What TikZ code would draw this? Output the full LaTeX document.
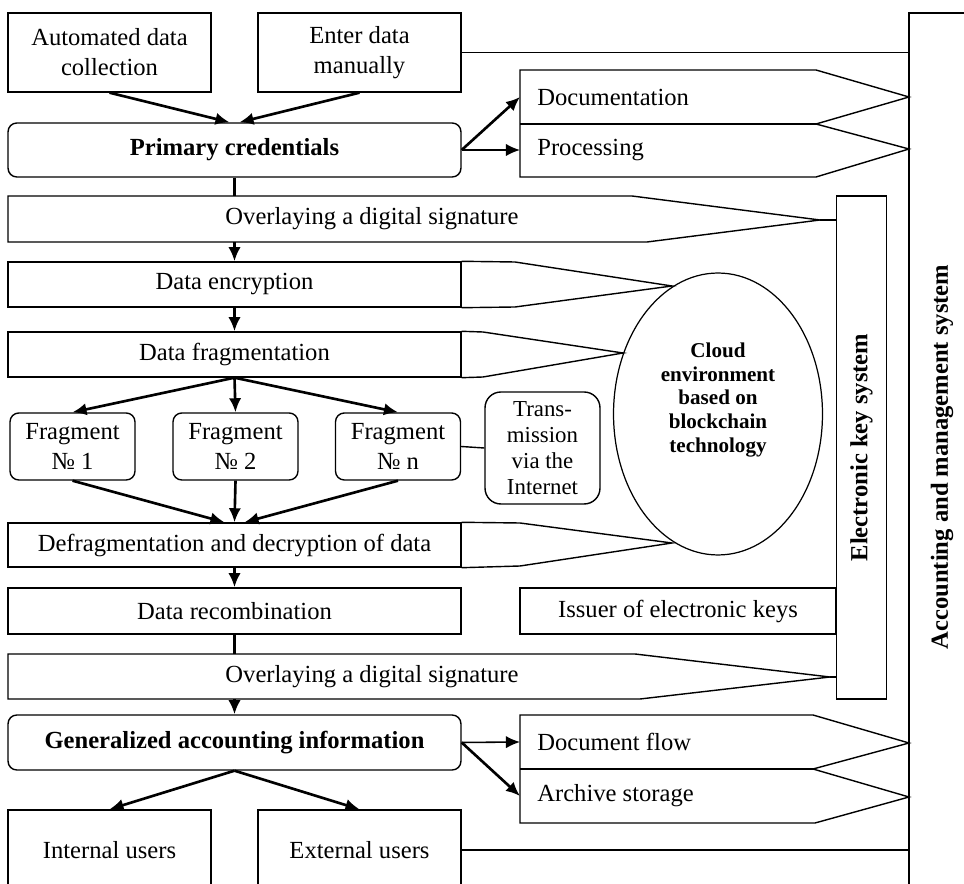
\documentclass[tikz,border=0pt]{standalone}
\usepackage{fontspec}
\setmainfont{Liberation Serif}
\usepackage{graphicx}
\tikzset{
    plain/.style={draw, rectangle, line width=0.8pt, inner sep=0pt, align=center},
    rplain/.style={plain, rounded corners=5pt},
    txt/.style={inner sep=0pt, align=center},
    boldtxt/.style={font=\fontsize{14}{17}\selectfont\bfseries},
    sign/.style={draw, line width=0.8pt},
    flow/.style={-{Latex[length=8pt,width=7pt]}, line width=1.5pt},
    thinflow/.style={-{Latex[length=8pt,width=7pt]}, line width=0.9pt},
    link/.style={line width=0.8pt} }
\usetikzlibrary{calc, shapes.geometric, arrows.meta}

\begin{document}
\begin{tikzpicture}[x=0.02cm, y=-0.02cm, font=\fontsize{14}{17}\selectfont]
	\useasboundingbox (0,0) rectangle (964,884);
	\clip (0,0) rectangle (964,884);
	% ---- systems on the right
	\node[plain, minimum width=1.32cm, minimum height=17.76cm, boldtxt] (acct) at (942,457) {\rotatebox{90}{Accounting and management system}};
	\node[plain, minimum width=1.0cm, minimum height=10.06cm, boldtxt] (keys) at (861.5,447.5) {\rotatebox{90}{Electronic key system}};
	% ---- input
	\node[plain, minimum width=4.06cm, minimum height=1.58cm] (auto) at (109.5,52.5) {Automated data\\collection};
	\node[plain, minimum width=4.06cm, minimum height=1.58cm] (manual) at (359.5,52.5) {Enter data\\manually};
	\node[rplain, minimum width=9.06cm, minimum height=1.08cm, boldtxt] (prim) at (234.5,150) {Primary credentials};
	\draw[flow] (auto.south) -- ([xshift=-0.1cm]prim.north);
	\draw[flow] (manual.south) -- ([xshift=0.1cm]prim.north);
	\draw[link] (manual.east) -- (manual.east -| acct.west);
	% ---- documentation / processing
	\draw[sign] (520,70) -- (816,70) -- (909,97) -- (816,124) -- (909,149) -- (816,177) -- (520,177) -- cycle;
	\draw[sign] (520,124) -- (816,124);
	\node[txt, anchor=west, inner xsep=0.34cm, minimum height=1.08cm] (doc) at (520,97) {Documentation};
	\node[txt, anchor=west, inner xsep=0.34cm, minimum height=1.06cm] (proc) at (520,150) {Processing};
	\draw[flow] (prim.east) -- (doc.west);
	\draw[thinflow] (prim.east) -- (proc.west);
	% ---- signature
	\draw[sign] (8,196) -- (632,196) -- (820,220) -- (647,242) -- (8,242) -- cycle;
	\node[txt, minimum height=0.92cm] (sig1) at (372,219) {Overlaying a digital signature};
	\coordinate (sig1tip) at (820,220);
	\draw[line width=1.5pt] (sig1tip) -- (sig1tip -| keys.west);
	\draw[line width=1.5pt] (prim.south) -- (prim.south |- sig1.north);
	% ---- encryption and fragmentation
	\node[plain, minimum width=9.06cm, minimum height=0.9cm] (enc) at (234.5,284.5) {Data encryption};
	\draw[sign] (enc.north east) -- (515,262) -- (672,286) -- (515,307) -- (enc.south east);
	\draw[flow] (enc.north |- sig1.south) -- (enc.north);
	\node[plain, minimum width=9.06cm, minimum height=0.9cm] (frag) at (234.5,354.5) {Data fragmentation};
	\draw[sign] (frag.north east) -- (483,332) -- (623,353) -- (483,377) -- (frag.south east);
	\draw[flow] (enc.south) -- (frag.north);
	% ---- cloud
	\node[draw, ellipse, line width=0.7pt, minimum width=4.18cm, minimum height=5.64cm] (cloud) at (718,414) {};
	\node[txt, font=\fontsize{12}{13.5}\selectfont\bfseries] (cloudtxt) at (718,400) {Cloud\\environment\\based on\\blockchain\\technology};
	% ---- fragments
	\node[rplain, minimum width=2.5cm, minimum height=1.34cm] (f1) at (72.5,446.5) {Fragment\\№ 1};
	\node[rplain, minimum width=2.5cm, minimum height=1.34cm] (f2) at (235.5,446.5) {Fragment\\№ 2};
	\node[rplain, minimum width=2.5cm, minimum height=1.34cm] (fn) at (398,446.5) {Fragment\\№ n};
	\node[rplain, rounded corners=9pt, minimum width=2.3cm, minimum height=2.24cm, font=\fontsize{13}{14.7}\selectfont] (trans) at (542.5,448) {Trans-\\mission\\via the\\Internet};
	\draw[link] (fn.east) -- (trans.west);
	\foreach \f in {f1,f2,fn}
		\draw[flow] (frag.south) -- (\f.north);
	% ---- defragmentation
	\node[plain, minimum width=9.06cm, minimum height=0.88cm] (defrag) at (234.5,545) {Defragmentation and decryption of data};
	\draw[sign] (defrag.north east) -- (520,523) -- (672,543) -- (520,566) -- (defrag.south east);
	\draw[flow] (f1.south) -- ([xshift=-0.2cm]defrag.north);
	\draw[flow] (f2.south) -- (defrag.north);
	\draw[flow] (fn.south) -- ([xshift=0.2cm]defrag.north);
	% ---- recombination and keys
	\node[plain, minimum width=9.06cm, minimum height=0.92cm] (recomb) at (234.5,611) {Data recombination};
	\node[plain, minimum width=6.32cm, minimum height=0.92cm] (issuer) at (678,611) {Issuer of electronic keys};
	\draw[flow] (defrag.south) -- (recomb.north);
	% ---- second signature
	\draw[sign] (8,654) -- (635,654) -- (830,677) -- (640,699) -- (8,699) -- cycle;
	\node[txt, minimum height=0.9cm] (sig2) at (372,676.5) {Overlaying a digital signature};
	\coordinate (sig2tip) at (830,677);
	\draw[link] (sig2tip) -- (sig2tip -| keys.west);
	\draw[line width=1.5pt] (recomb.south) -- (recomb.south |- sig2.north);
	% ---- output
	\node[rplain, minimum width=9.06cm, minimum height=1.1cm, boldtxt] (gen) at (234.5,742.5) {Generalized accounting information};
	\draw[flow] (gen.north |- sig2.south) -- (gen.north);
	\draw[sign] (520,715) -- (813,715) -- (909,743) -- (813,769) -- (909,797) -- (815,823) -- (520,823) -- cycle;
	\draw[sign] (520,769) -- (813,769);
	\node[txt, anchor=west, inner xsep=0.34cm, minimum height=1.08cm] (docflow) at (520,742) {Document flow};
	\node[txt, anchor=west, inner xsep=0.34cm, minimum height=1.08cm] (archive) at (520,796) {Archive storage};
	\draw[thinflow] (gen.east) -- (docflow.west);
	\draw[flow] (gen.east) -- (archive.west);
	\node[plain, minimum width=4.06cm, minimum height=1.6cm] (intu) at (109.5,850) {Internal users};
	\node[plain, minimum width=4.06cm, minimum height=1.6cm] (extu) at (359.5,850) {External users};
	\draw[flow] (gen.south) -- (intu.north);
	\draw[flow] (gen.south) -- (extu.north);
	\draw[link] (extu.east) -- (extu.east -| acct.west);
\end{tikzpicture}
\end{document}
